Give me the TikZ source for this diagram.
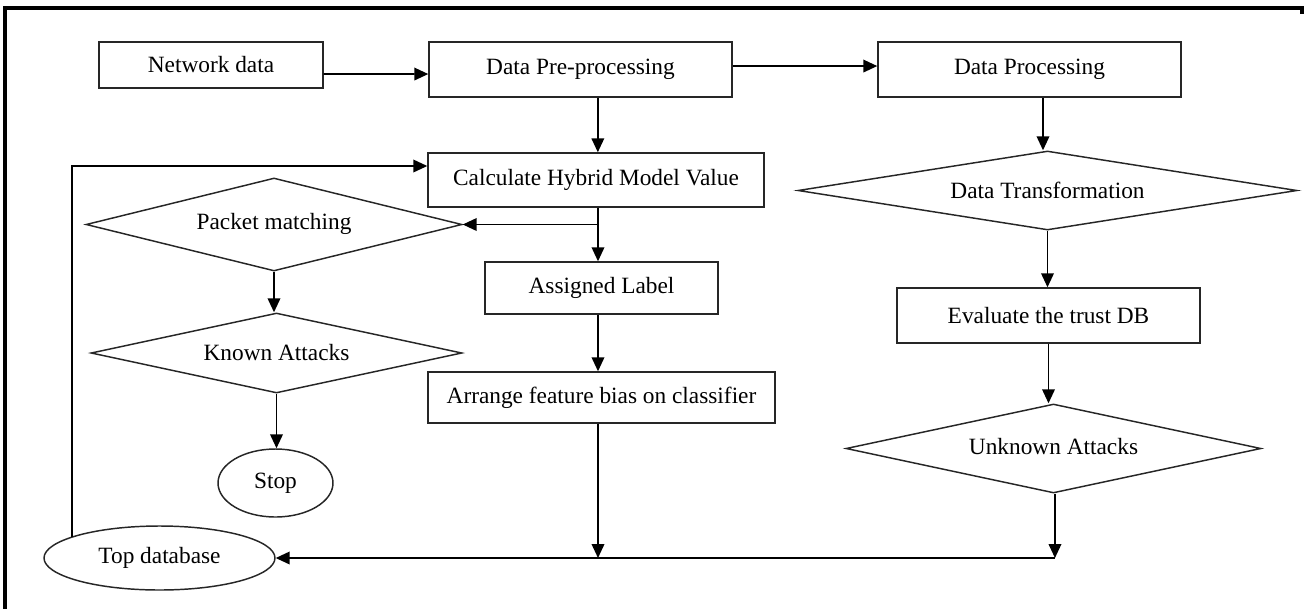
\documentclass[tikz,border=0pt]{standalone}
\usepackage{fontspec}
\setmainfont{Liberation Serif}
\usetikzlibrary{shapes.geometric,arrows.meta,calc}

\begin{document}
\begin{tikzpicture}[x=0.75pt,y=-0.75pt,
  every node/.style={font=\fontsize{17.5}{20}\selectfont, inner sep=0pt, draw=black!85, line width=1.1pt},
  procbox/.style={rectangle},
  decision/.style={diamond},
  terminal/.style={ellipse},
  arr/.style={line width=1.2pt, -{Triangle[length=10.5pt,width=9.5pt]}},
  link/.style={line width=1.2pt},
  frameline/.style={line width=2.6pt, line cap=rect}]

  % page extent
  \useasboundingbox (0,0) rectangle (1304,608);

  % outer frame (top and left edges)
  \draw[frameline] (5,608) -- (5,8) -- (1302,8) -- (1302,12);

  % process boxes
  \node[procbox, minimum width=224*0.75pt, minimum height=46*0.75pt] (nd)   at (211,65)     {Network data};
  \node[procbox, minimum width=303*0.75pt, minimum height=55*0.75pt] (pre)  at (580.5,69.5) {Data Pre-processing};
  \node[procbox, minimum width=303*0.75pt, minimum height=55*0.75pt] (proc) at (1029.5,69.5){Data Processing};
  \node[procbox, minimum width=336*0.75pt, minimum height=54*0.75pt] (calc) at (596,180)    {Calculate Hybrid Model Value};
  \node[procbox, minimum width=233*0.75pt, minimum height=52*0.75pt] (al)   at (601.5,288)  {Assigned Label};
  \node[procbox, minimum width=347*0.75pt, minimum height=51*0.75pt] (afb)  at (601.5,397.5){Arrange feature bias on classifier};
  \node[procbox, minimum width=303*0.75pt, minimum height=55*0.75pt] (ev)   at (1048.5,315.5){Evaluate the trust DB};

  % decisions
  \node[decision, aspect=4, minimum width=376*0.75pt, minimum height=93*0.75pt] (pk) at (274,224.5)   {\raisebox{4pt}{Packet matching}};
  \node[decision, aspect=4, minimum width=371*0.75pt, minimum height=80*0.75pt] (ka) at (276.5,353)   {Known Attacks};
  \node[decision, aspect=6, minimum width=499*0.75pt, minimum height=79*0.75pt] (dt) at (1047.5,190.5) {Data Transformation};
  \node[decision, aspect=4.5, minimum width=415*0.75pt, minimum height=89*0.75pt] (ua) at (1053.5,448.5) {\raisebox{3pt}{Unknown Attacks}};

  % terminals
  \node[terminal, minimum width=115*0.75pt, minimum height=68*0.75pt] (stop) at (275.5,483) {Stop};
  \node[terminal, minimum width=231*0.75pt, minimum height=64*0.75pt] (tdb)  at (159.5,558) {Top database};

  % top row
  \draw[arr] ([yshift=-6.75pt]nd.east) -- ([yshift=-3.4pt]pre.west);
  \draw[arr] ([yshift=2.6pt]pre.east) -- ([yshift=2.6pt]proc.west);
  \draw[arr] ([xshift=13pt]pre.south) -- ([xshift=13pt]pre.south |- calc.north);

  % middle column
  \coordinate (br) at ([xshift=1.5pt]calc.south |- pk.east);
  \draw[link] ([xshift=1.5pt]calc.south) -- (br);
  \draw[arr] (br) -- (pk.east);
  \draw[arr] (br) -- (br |- al.north);
  \draw[arr] (br |- al.south) -- (br |- afb.north);
  \coordinate (jm) at (br |- tdb.east);
  \draw[arr] (br |- afb.south) -- (jm);

  % left column
  \draw[arr] (pk.south) -- (pk.south |- ka.north);
  \draw[arr] (ka.south) -- (ka.south |- stop.north);

  % right column
  \coordinate (px) at (1043,0);
  \draw[arr] (proc.south -| px) -- (px |- dt.north);
  \draw[arr] (dt.south) -- (dt.south |- ev.north);
  \draw[arr] (ev.south) -- (ev.south |- ua.north);
  \coordinate (jr) at ([xshift=1.1pt]ua.south |- tdb.east);
  \draw[arr] ([xshift=1.1pt]ua.south) -- (jr);

  % collecting line and feedback loop
  \draw[arr] (jr) -- (tdb.east);
  \coordinate (fb) at (72,537);
  \coordinate (cw) at ([yshift=10.5pt]calc.west);
  \draw[arr] (fb) -- (fb |- cw) -- (cw);
\end{tikzpicture}
\end{document}
